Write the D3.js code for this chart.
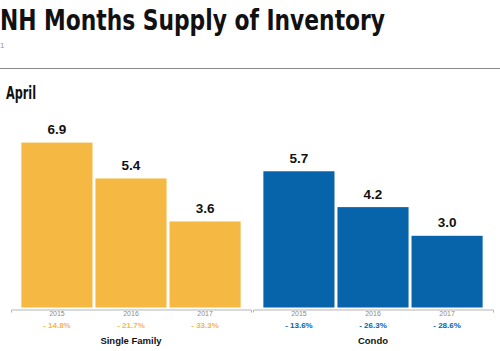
<!DOCTYPE html>
<html>
<head>
<meta charset="utf-8">
<script src="https://cdn.jsdelivr.net/npm/d3@7"></script>
<style>
  body { margin: 0; background: #fff; }
  svg { display: block; }
</style>
</head>
<body>
<div id="chart"></div>
<script>
// chart data
var groups = ["Single Family", "Condo"];
var years = ["2015", "2016", "2017"];
var singleFamily = [6.9, 5.4, 3.6];
var condo = [5.7, 4.2, 3.0];
var singleChange = ["- 14.8%", "- 21.7%", "- 33.3%"];
var condoChange = ["- 13.6%", "- 26.3%", "- 28.6%"];
var groupColors = ["#f4b843", "#0763aa"];

var width = 500, height = 351;
var baseY = 307.5;

var svg = d3.select("#chart")
  .append("svg")
  .attr("width", width)
  .attr("height", height);

// header
svg.append("text")
  .attr("x", 0)
  .attr("y", 30)
  .attr("font-family", "'Liberation Sans Narrow', 'DejaVu Sans Condensed', Arial, sans-serif")
  .attr("font-weight", "bold")
  .attr("font-size", 29)
  .attr("textLength", 385)
  .attr("lengthAdjust", "spacingAndGlyphs")
  .attr("fill", "#111")
  .text("NH Months Supply of Inventory");

svg.append("text")
  .attr("x", 0)
  .attr("y", 48)
  .attr("font-family", "Arial, sans-serif")
  .attr("font-size", 8)
  .attr("fill", "#999")
  .text("1");

svg.append("line")
  .attr("x1", 0).attr("x2", width)
  .attr("y1", 68.5).attr("y2", 68.5)
  .attr("stroke", "#8a8a8a")
  .attr("stroke-width", 1.2);

svg.append("text")
  .attr("x", 6)
  .attr("y", 99)
  .attr("font-family", "'Liberation Sans Narrow', 'DejaVu Sans Condensed', Arial, sans-serif")
  .attr("font-weight", "bold")
  .attr("font-size", 17)
  .attr("textLength", 30)
  .attr("lengthAdjust", "spacingAndGlyphs")
  .attr("fill", "#111")
  .text("April");

// scales
var x0 = d3.scaleBand().domain(groups).range([11, 495]).padding(0);
var x1 = d3.scaleBand().domain(years).range([0, 240])
  .paddingInner(0.04).paddingOuter(0.14);
var y = d3.scaleLinear().domain([0, 1]).range([baseY, baseY - 23.9]);

var data = [
  { name: groups[0], values: singleFamily, changes: singleChange, color: groupColors[0] },
  { name: groups[1], values: condo, changes: condoChange, color: groupColors[1] }
];

var g = svg.selectAll(".group")
  .data(data)
  .join("g")
  .attr("class", "group")
  .attr("transform", function (d) { return "translate(" + x0(d.name) + ",0)"; });

// bars
g.selectAll("rect")
  .data(function (d) {
    return d.values.map(function (v, i) { return { year: years[i], value: v, color: d.color }; });
  })
  .join("rect")
  .attr("x", function (d) { return x1(d.year); })
  .attr("y", function (d) { return y(d.value); })
  .attr("width", x1.bandwidth())
  .attr("height", function (d) { return baseY - y(d.value); })
  .attr("fill", function (d) { return d.color; });

// value labels
g.selectAll(".val")
  .data(function (d) {
    return d.values.map(function (v, i) { return { year: years[i], value: v }; });
  })
  .join("text")
  .attr("class", "val")
  .attr("x", function (d) { return x1(d.year) + x1.bandwidth() / 2; })
  .attr("y", function (d) { return y(d.value) - 8.5; })
  .attr("text-anchor", "middle")
  .attr("font-family", "Arial, 'Liberation Sans', sans-serif")
  .attr("font-weight", "bold")
  .attr("font-size", 13.5)
  .attr("fill", "#111")
  .text(function (d) { return d3.format(".1f")(d.value); });

// x axis per group
var xAxis = d3.axisBottom(x1).tickSizeInner(0).tickSizeOuter(3).tickPadding(2);

g.append("g")
  .attr("class", "x-axis")
  .attr("transform", "translate(0,309.5)")
  .call(xAxis)
  .call(function (a) {
    a.select(".domain").attr("stroke", "#b5b5b5");
    a.selectAll(".tick text")
      .attr("font-family", "Arial, 'Liberation Sans', sans-serif")
      .attr("font-size", 7)
      .attr("fill", "#8a8a8a");
  });

// percent change
g.selectAll(".chg")
  .data(function (d) {
    return d.changes.map(function (c, i) { return { year: years[i], text: c, color: d.color }; });
  })
  .join("text")
  .attr("class", "chg")
  .attr("x", function (d) { return x1(d.year) + x1.bandwidth() / 2; })
  .attr("y", 327.5)
  .attr("text-anchor", "middle")
  .attr("font-family", "Arial, 'Liberation Sans', sans-serif")
  .attr("font-weight", "bold")
  .attr("font-size", 8)
  .attr("fill", function (d) { return d.color; })
  .text(function (d) { return d.text; });

// group labels
g.append("text")
  .attr("x", x1("2016") + x1.bandwidth() / 2)
  .attr("y", 343.5)
  .attr("text-anchor", "middle")
  .attr("font-family", "Arial, 'Liberation Sans', sans-serif")
  .attr("font-weight", "bold")
  .attr("font-size", 9.5)
  .attr("fill", "#111")
  .text(function (d) { return d.name; });
</script>
</body>
</html>
